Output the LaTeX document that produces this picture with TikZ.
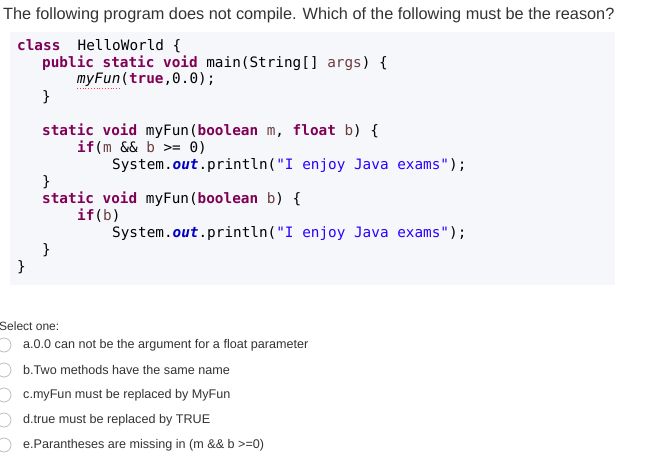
\documentclass[tikz,border=0pt]{standalone}
\usepackage{fontspec}
\setmainfont{Liberation Sans}
\setmonofont{DejaVu Sans Mono}
\definecolor{kw}{HTML}{7F0055}
\definecolor{par}{HTML}{6A3E3E}
\definecolor{fld}{HTML}{0000C0}
\definecolor{str}{HTML}{2A00FF}
\definecolor{codebg}{HTML}{F5F7FA}
\definecolor{txt}{HTML}{333333}
\newcommand{\K}[1]{\textcolor{kw}{\bfseries #1}}
\newcommand{\PP}[1]{\textcolor{par}{#1}}
\newcommand{\F}[1]{\textcolor{fld}{\bfseries\itshape #1}}
\newcommand{\SQ}[1]{\textcolor{str}{#1}}
\begin{document}
\begin{tikzpicture}[x=1pt,y=-1pt,
  code/.style={anchor=west,inner sep=0pt,font=\fontsize{14.35}{16}\ttfamily,text=black},
  opt/.style={anchor=west,inner sep=0pt,font=\fontsize{12.6}{14}\selectfont,text=txt},
  radio/.style={circle,draw=black!25,line width=0.8pt,minimum size=14pt,inner sep=0pt}]
\useasboundingbox (0,0) rectangle (645,472);
\fill[white] (0,0) rectangle (645,472);
\node[anchor=west,inner sep=0pt,font=\fontsize{16.3}{18}\selectfont,text=txt] (title) at (3,15) {The following program does not compile. Which of the following must be the reason?};
\fill[codebg] (10,32) rectangle (615,285);
\node[code] (l1) at (17,46) {\K{class}\ \ HelloWorld \{};
\node[code] (l2) at (42,63) {\K{public static void} main(String[] \PP{args}) \{};
\node[code] (l3) at (77,80) {\textit{myFun}(\K{true},0.0);};
\draw[red!80,dotted,line width=0.8pt] (77,88.5) -- (120,88.5);
\node[code] (l4) at (42,97) {\}};
\node[code] (l5) at (42,131) {\K{static void} myFun(\K{boolean} \PP{m}, \K{float} \PP{b}) \{};
\node[code] (l6) at (77,148) {\K{if}(\PP{m} \&\& \PP{b} >= 0)};
\node[code] (l7) at (112,165) {System.\F{out}.println(\SQ{"I enjoy Java exams"});};
\node[code] (l8) at (42,182) {\}};
\node[code] (l9) at (42,199) {\K{static void} myFun(\K{boolean} \PP{b}) \{};
\node[code] (l10) at (77,216) {\K{if}(\PP{b})};
\node[code] (l11) at (112,233) {System.\F{out}.println(\SQ{"I enjoy Java exams"});};
\node[code] (l12) at (42,250) {\}};
\node[code] (l13) at (17,267) {\}};
\node[anchor=west,inner sep=0pt,font=\fontsize{12}{14}\selectfont,text=txt] (sel) at (-1,326) {Select one:};
\foreach \y/\t [count=\i] in {345/{a.0.0 can not be the argument for a float parameter},
  370/{b.Two methods have the same name},
  395/{c.myFun must be replaced by MyFun},
  420/{d.true must be replaced by TRUE},
  445/{e.Parantheses are missing in (m \&\& b >=0)}}{
  \node[radio] (r\i) at (4,\y) {};
  \node[opt] (o\i) at (23,\y) {\t};
}
\end{tikzpicture}
\end{document}
